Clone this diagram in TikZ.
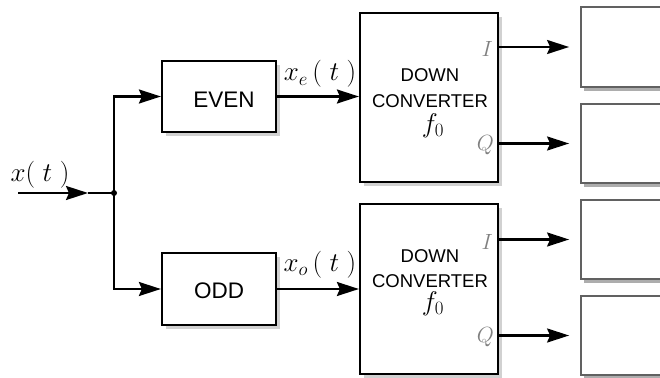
\RequirePackage{fix-cm}
\documentclass[tikz,border=0pt]{standalone}
\usepackage{fontspec}
\setsansfont{Liberation Sans}
\usetikzlibrary{arrows.meta,shadows}
\tikzset{
  wire/.style={line width=2.2pt},
  arrow/.style={wire,-{Stealth[length=22pt,width=14pt,inset=3pt]}},
  block/.style={draw,line width=2.2pt,fill=white,rectangle,
    drop shadow={shadow xshift=4pt,shadow yshift=-4pt,fill=black!18,opacity=1}},
  outbox/.style={draw=black!62,line width=1.8pt,fill=white,rectangle,
    drop shadow={shadow xshift=3pt,shadow yshift=-4pt,fill=black!32,opacity=1}},
  blocktext/.style={font=\sffamily\fontsize{22.5}{24}\selectfont,inner sep=0pt},
  dctext/.style={font=\sffamily\fontsize{18.5}{20}\selectfont,inner sep=0pt,anchor=base},
  freq/.style={font=\fontsize{27}{27}\selectfont,inner sep=0pt,anchor=base},
  port/.style={text=black!50,font=\fontsize{22}{22}\selectfont,inner sep=0pt,anchor=east},
  sig/.style={font=\fontsize{27}{27}\selectfont,inner sep=0pt,anchor=base},
  dot/.style={circle,fill,inner sep=0pt,minimum size=6pt}
}
\begin{document}
\begin{tikzpicture}[x=1pt,y=-1pt]
\useasboundingbox (0,0) rectangle (660,377);
\clip (0,0) rectangle (660,377);

% filter blocks
\node[block,minimum width=114pt,minimum height=71pt] (even) at (219,96.5) {};
\node[block,minimum width=114pt,minimum height=72pt] (odd) at (219,289) {};
\node[blocktext,anchor=base] (event) at (224,107) {EVEN};
\node[blocktext,anchor=base] (oddt) at (219,298) {ODD};

% down converters
\node[block,minimum width=138pt,minimum height=169pt] (dc1) at (429,97.5) {};
\node[block,minimum width=138pt,minimum height=170pt] (dc2) at (429,289) {};
\node[dctext] (dc1a) at (430,82) {DOWN};
\node[dctext] (dc1b) at (430,107) {CONVERTER};
\node[freq]   (dc1f) at (433,132) {$f_0$};
\node[dctext] (dc2a) at (430,262) {DOWN};
\node[dctext] (dc2b) at (430,287) {CONVERTER};
\node[freq]   (dc2f) at (433,310) {$f_0$};

% output boxes
\node[outbox,minimum width=130pt,minimum height=80pt] (r1) at (646,47) {};
\node[outbox,minimum width=130pt,minimum height=79pt] (r2) at (646,143.5) {};
\node[outbox,minimum width=130pt,minimum height=79pt] (r3) at (646,239.5) {};
\node[outbox,minimum width=130pt,minimum height=79pt] (r4) at (646,335.5) {};

% input and split
\coordinate (in) at (18,193);
\coordinate (intip) at (88,193);
\node[dot] (j) at (114,193) {};
\draw[arrow] (in) -- (intip);
\draw[wire] (intip) -- (j.center);
\node[sig] (xin) at (40,181) {$x(\;t\;)$};
\draw[arrow] (j.center) |- (even.west);
\draw[arrow] (j.center) |- (odd.west);

% even / odd to converters
\draw[arrow] (even.east) -- (even.east -| dc1.west);
\draw[arrow] (odd.east) -- (odd.east -| dc2.west);
\node[sig] (xe) at (320,81) {$x_e\,(\;t\;)$};
\node[sig] (xo) at (320,271) {$x_o\,(\;t\;)$};

% I and Q outputs
\draw[arrow,shorten >=11pt] (dc1.east |- r1.west) -- (r1.west);
\draw[arrow,shorten >=11pt] (dc1.east |- r2.west) -- (r2.west);
\draw[arrow,shorten >=11pt] (dc2.east |- r3.west) -- (r3.west);
\draw[arrow,shorten >=11pt] (dc2.east |- r4.west) -- (r4.west);
\node[port] (i1) at ([xshift=-6pt,yshift=-2pt]dc1.east |- r1.west) {$I$};
\node[port] (q1) at ([xshift=-5pt,yshift=-2pt]dc1.east |- r2.west) {$Q$};
\node[port] (i2) at ([xshift=-6pt,yshift=-2pt]dc2.east |- r3.west) {$I$};
\node[port] (q2) at ([xshift=-5pt,yshift=-2pt]dc2.east |- r4.west) {$Q$};
\end{tikzpicture}
\end{document}
